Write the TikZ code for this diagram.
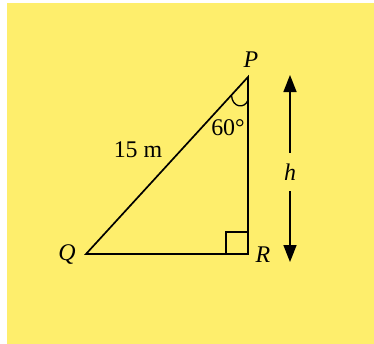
\documentclass[tikz,border=0pt]{standalone}
\usepackage{fontspec}
\setmainfont{Liberation Serif}
\usetikzlibrary{arrows.meta,calc}
\definecolor{bgyellow}{RGB}{254,238,108}
\tikzset{
  lbl/.style={inner sep=0pt, font=\fontsize{24}{26}\selectfont},
  ilbl/.style={inner sep=0pt, font=\fontsize{24}{26}\selectfont\itshape},
  edge/.style={line width=1.7pt, line join=miter},
  harrow/.style={line width=1.7pt, {Triangle[length=17bp,width=13bp]}-{Triangle[length=17bp,width=13bp]}}
}
\begin{document}
\begin{tikzpicture}[x=1bp,y=-1bp]
\useasboundingbox (0,0) rectangle (374,344);
\fill[white] (0,0) rectangle (374,344);
\fill[bgyellow] (7,3) rectangle (374,344);
\coordinate (P) at (248,77);
\coordinate (Q) at (86,254);
\coordinate (R) at (248,254);
\coordinate (a1) at (231.5,95);
\coordinate (a2) at (248,100);
\draw[edge] (Q) -- (P) -- (R) -- cycle;
\draw[line width=1.4pt] ($(R)+(-22,0)$) |- ($(R)+(0,-22)$);
\draw[line width=1.3pt] (a1) .. controls (232,108) and (245,109) .. (a2);
\node[ilbl] (pl) at (251,60) {P};
\node[ilbl] (ql) at (67,255) {Q};
\node[ilbl] (rl) at (263,255) {R};
\node[lbl] (ang) at (228,128) {60°};
\node[lbl] (len) at (138,150) {15 m};
\coordinate (ta) at (290,75);
\coordinate (tb) at (290,262);
\draw[harrow] (ta) -- (tb);
\node[ilbl, fill=bgyellow, minimum height=38bp] (h) at (290,172) {h};
\end{tikzpicture}
\end{document}
